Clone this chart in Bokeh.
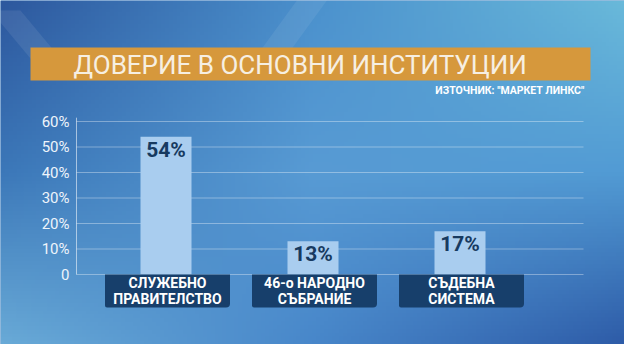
import numpy as np
from bokeh.plotting import figure
from bokeh.models import Range1d
from bokeh.core.properties import value
from bokeh.embed import file_html
from bokeh.resources import INLINE

# ---- data ----
categories = ["СЛУЖЕБНО\nПРАВИТЕЛСТВО", "46-о НАРОДНО\nСЪБРАНИЕ", "СЪДЕБНА\nСИСТЕМА"]
values = [54, 13, 17]
value_labels = ["54%", "13%", "17%"]
y_ticks = [0, 10, 20, 30, 40, 50, 60]
y_tick_labels = ["0", "10%", "20%", "30%", "40%", "50%", "60%"]
title = "ДОВЕРИЕ В ОСНОВНИ ИНСТИТУЦИИ"
source_text = "ИЗТОЧНИК: \"МАРКЕТ ЛИНКС\""

# ---- layout helpers (pixel -> data) ----
W, H = 624, 344
PX, X0PX = 147.0, 165.5
PY, Y0PX = 2.55, 274.0
def dx(px):
    return (px - X0PX) / PX
def dy(py):
    return (Y0PX - py) / PY

xs, xe = dx(0), dx(W)
ys, ye = dy(H), dy(0)

p = figure(width=W, height=H, output_backend="svg", toolbar_location=None,
           x_range=Range1d(xs, xe), y_range=Range1d(ys, ye),
           min_border=0, outline_line_color=None)
p.axis.visible = False
p.grid.visible = False
p.background_fill_color = "#3f7fc0"
p.border_fill_color = "#3f7fc0"

# ---- background gradient ----
grid_cols = np.array([
    [[105, 170, 215], [72, 135, 202], [46, 92, 168]],    # bottom row (left, mid, right)
    [[60, 120, 185], [88, 155, 212], [82, 155, 212]],    # middle row
    [[45, 88, 158], [75, 145, 205], [105, 185, 218]],    # top row
], dtype=float)
ny, nx = 90, 160
gy = np.linspace(0, 2, ny)
gx = np.linspace(0, 2, nx)
GX, GY = np.meshgrid(gx, gy)
ix = np.clip(np.floor(GX).astype(int), 0, 1)
iy = np.clip(np.floor(GY).astype(int), 0, 1)
fx = (GX - ix)[..., None]
fy = (GY - iy)[..., None]
c00 = grid_cols[iy, ix]
c01 = grid_cols[iy, ix + 1]
c10 = grid_cols[iy + 1, ix]
c11 = grid_cols[iy + 1, ix + 1]
col = (c00 * (1 - fx) * (1 - fy) + c01 * fx * (1 - fy) + c10 * (1 - fx) * fy + c11 * fx * fy)
img = np.empty((ny, nx), dtype=np.uint32)
view = img.view(dtype=np.uint8).reshape((ny, nx, 4))
view[..., 0] = col[..., 0].astype(np.uint8)
view[..., 1] = col[..., 1].astype(np.uint8)
view[..., 2] = col[..., 2].astype(np.uint8)
view[..., 3] = 255
p.image_rgba(image=[img], x=xs, y=ys, dw=xe - xs, dh=ye - ys)

# faint light streaks
p.patch([dx(-10), dx(20), dx(70), dx(40)], [dy(10), dy(10), dy(70), dy(70)],
        fill_color="white", fill_alpha=0.08, line_color=None)
p.patch([dx(300), dx(330), dx(290), dx(260)], [dy(-5), dy(-5), dy(50), dy(50)],
        fill_color="white", fill_alpha=0.07, line_color=None)

# ---- title banner ----
p.quad(left=dx(30), right=dx(590), top=dy(47), bottom=dy(80),
       fill_color="#d6983c", line_color=None)
p.text(x=[dx(73)], y=[dy(64.5)], text=[title], text_font=value("Roboto"),
       text_font_size="26px", text_color="#f6efe2", text_align="left",
       text_baseline="middle")
p.text(x=[dx(584)], y=[dy(90)], text=[source_text], text_font=value("Roboto"),
       text_font_size="10.5px", text_font_style="bold", text_color="#ffffff",
       text_align="right", text_baseline="middle")

# ---- grid and axis ----
n = len(y_ticks)
p.segment(x0=[dx(76)] * n, x1=[dx(583)] * n, y0=y_ticks, y1=y_ticks,
          line_color="white", line_alpha=0.35, line_width=1)
p.segment(x0=[dx(76)], x1=[dx(76)], y0=[0], y1=[max(y_ticks) + 1.5],
          line_color="white", line_alpha=0.55, line_width=1)
p.text(x=[dx(69)] * n, y=y_ticks, text=y_tick_labels, text_font=value("Roboto"),
       text_font_size="15px", text_color="#eef4fb", text_align="right",
       text_baseline="middle")

# ---- bars ----
xi = list(range(len(values)))
p.vbar(x=xi, top=values, bottom=0, width=51 / PX, fill_color="#a9cdef",
       line_color=None)
p.text(x=xi, y=values, text=value_labels, text_font=value("Roboto"),
       text_font_size="21px", text_font_style="bold", text_color="#173a60",
       text_align="center", text_baseline="middle", y_offset=13)

# ---- category boxes ----
bx = [i + 1.5 / PX for i in xi]
p.quad(left=[b - 62.5 / PX for b in bx], right=[b + 62.5 / PX for b in bx],
       top=[0] * len(xi), bottom=[-33 / PY] * len(xi),
       fill_color="#173f6b", line_color=None,
       border_radius=dict(top_left=0, top_right=0, bottom_right=4, bottom_left=2))
p.text(x=bx, y=[-16.5 / PY] * len(xi), text=categories, text_font=value("Roboto"),
       text_font_size="14px", text_font_style="bold", text_color="#ffffff",
       text_align="center", text_baseline="middle", text_line_height=1.0)

open("out.html", "w").write(file_html(p, INLINE))
